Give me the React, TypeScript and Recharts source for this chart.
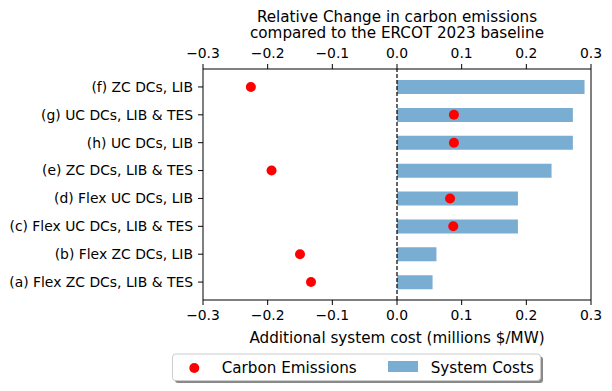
import { ComposedChart, Bar, Scatter, XAxis, YAxis, ReferenceLine } from 'recharts';

const categories = [
  '(f) ZC DCs, LIB',
  '(g) UC DCs, LIB & TES',
  '(h) UC DCs, LIB',
  '(e) ZC DCs, LIB & TES',
  '(d) Flex UC DCs, LIB',
  '(c) Flex UC DCs, LIB & TES',
  '(b) Flex ZC DCs, LIB',
  '(a) Flex ZC DCs, LIB & TES',
];
const systemCosts = [0.290, 0.272, 0.272, 0.239, 0.187, 0.187, 0.061, 0.055];
const carbonEmissions = [-0.226, 0.088, 0.088, -0.194, 0.082, 0.087, -0.150, -0.133];
const axisTicks = [-0.3, -0.2, -0.1, 0, 0.1, 0.2, 0.3];

const data = categories.map((name, i) => ({
  name,
  cost: systemCosts[i],
  co2: carbonEmissions[i],
}));

const FONT = '"DejaVu Sans", sans-serif';
const BAR_COLOR = '#79add2';
const tickStyle = { fontSize: 13.9, fill: '#000', fontFamily: FONT };
const fmt = (v: number) => (v < 0 ? '\u2212' + Math.abs(v).toFixed(1) : v.toFixed(1));

export default function App() {
  return (
    <div style={{ position: 'absolute', left: 0, top: 0, width: 612, height: 391, background: '#fff' }}>
      <ComposedChart
        width={612}
        height={391}
        data={data}
        layout="vertical"
        margin={{ top: 0, right: 21, bottom: 40, left: 8 }}
      >
        <XAxis
          xAxisId="cost"
          type="number"
          domain={[-0.3, 0.3]}
          ticks={axisTicks}
          tickFormatter={fmt}
          height={51}
          tick={tickStyle}
          tickSize={5}
          tickMargin={5}
          stroke="#000"
          allowDataOverflow
        />
        <XAxis
          xAxisId="co2"
          orientation="top"
          type="number"
          domain={[-0.3, 0.3]}
          ticks={axisTicks}
          tickFormatter={fmt}
          height={69}
          tick={tickStyle}
          tickSize={5}
          tickMargin={6}
          stroke="#000"
          allowDataOverflow
        />
        <YAxis
          type="category"
          dataKey="name"
          width={195}
          tick={tickStyle}
          tickSize={5}
          tickMargin={5}
          stroke="#000"
          padding={{ top: 4, bottom: 4 }}
          interval={0}
        />
        <ReferenceLine xAxisId="cost" x={0.3} stroke="#000" strokeWidth={1} />
        <Bar xAxisId="cost" dataKey="cost" fill={BAR_COLOR} barSize={14} isAnimationActive={false} />
        <ReferenceLine xAxisId="cost" x={0} stroke="#000" strokeWidth={1.2} strokeDasharray="4 2" />
        <Scatter
          xAxisId="co2"
          dataKey="co2"
          fill="#ff0000"
          shape={(p: any) => <circle cx={p.cx} cy={p.cy} r={5} fill="#ff0000" />}
          isAnimationActive={false}
        />
      </ComposedChart>

      <svg
        width={612}
        height={391}
        style={{ position: 'absolute', left: 0, top: 0, pointerEvents: 'none' }}
        fontFamily={FONT}
      >
        <text x={397} y={21.5} textAnchor="middle" fontSize={15.2} fill="#000">
          Relative Change in carbon emissions
        </text>
        <text x={397} y={38} textAnchor="middle" fontSize={15.2} fill="#000">
          compared to the ERCOT 2023 baseline
        </text>
        <text x={397} y={343} textAnchor="middle" fontSize={15.2} fill="#000">
          Additional system cost (millions $/MW)
        </text>

        {/* legend */}
        <rect x={175} y={356.5} width={368} height={26.5} rx={3} fill="#8a8a8a" />
        <rect x={172.5} y={354} width={368} height={26.5} rx={3} fill="#fff" stroke="#cccccc" />
        <circle cx={194.3} cy={368} r={5} fill="#ff0000" />
        <text x={221.7} y={373.3} fontSize={15.2} fill="#000">Carbon Emissions</text>
        <rect x={388} y={361} width={30} height={11} fill={BAR_COLOR} />
        <text x={430.7} y={373.3} fontSize={15.2} fill="#000">System Costs</text>
      </svg>
    </div>
  );
}
